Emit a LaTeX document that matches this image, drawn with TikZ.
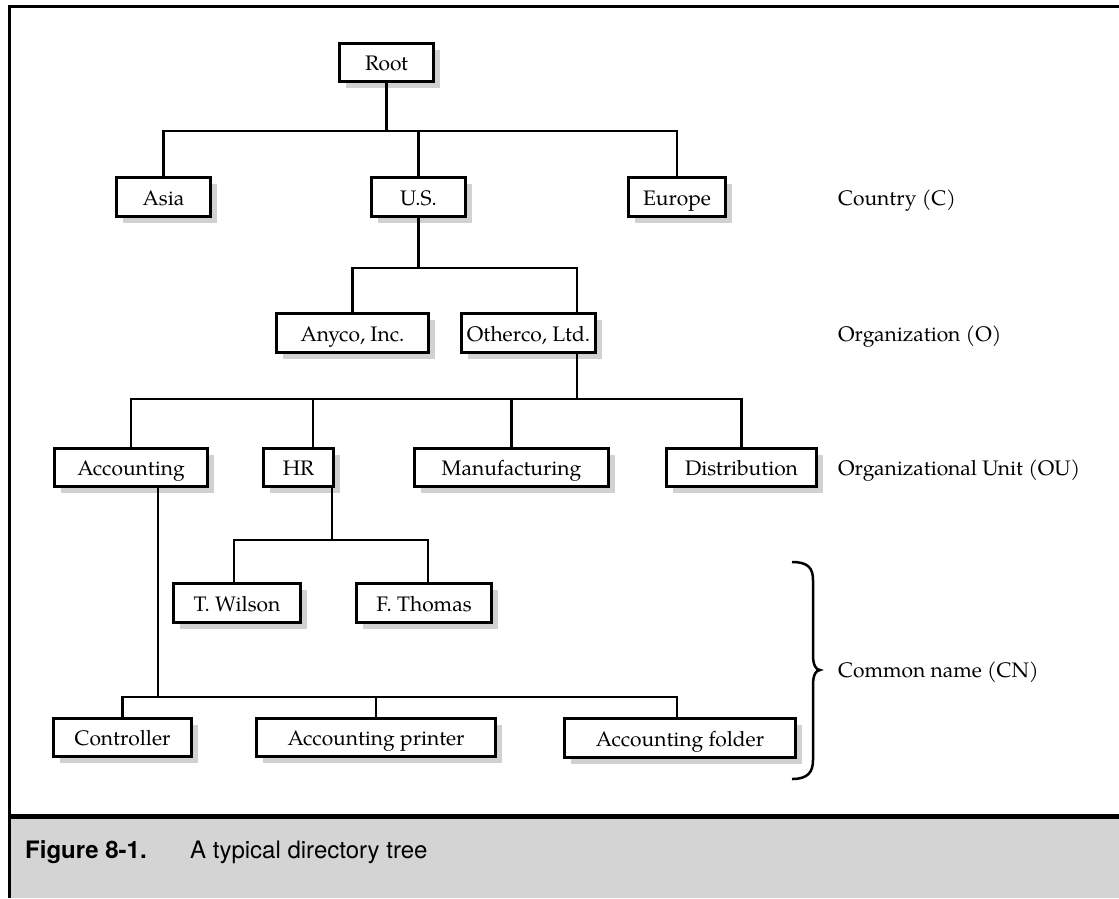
\documentclass[tikz,border=0pt]{standalone}
\usepackage{fontspec}
\setmainfont{TeX Gyre Pagella}
\setsansfont{TeX Gyre Heros}
\usetikzlibrary{shadows}
\definecolor{shade}{gray}{0.82}
\definecolor{capfill}{gray}{0.83}
\begin{document}
\begin{tikzpicture}[x=1pt,y=-1pt,
  box/.style={draw, line width=2.8pt, fill=white, inner sep=0pt,
    minimum height=38.3pt, text height=20pt, text depth=3.6pt,
    font=\fontsize{21}{24}\selectfont,
    drop shadow={shadow xshift=6.5pt, shadow yshift=-6.5pt, fill=shade, opacity=1}},
  link/.style={line width=2.7pt},
  lab/.style={anchor=base west, inner sep=0pt, font=\fontsize{21}{24}\selectfont}]
\useasboundingbox (0,0) rectangle (1119,898);

% caption band and frame
\fill[capfill] (9,817) rectangle (1119,898);
\draw[line width=3pt] (1119,6) -- (9,6) -- (9,898);
\draw[line width=5pt] (9,816.8) -- (1119,816.8);
\node[anchor=base west, inner sep=0pt, font=\sffamily\bfseries\fontsize{24}{28}\selectfont] (fig) at (25,858) {Figure 8-1.};
\node[anchor=base west, inner sep=0pt, font=\sffamily\fontsize{24}{28}\selectfont] (cap) at (190,858) {A typical directory tree};

% tree nodes
\node[box, minimum width=93.3pt]  (root)  at (386.5,62.5) {Root};
\node[box, minimum width=94.3pt]  (asia)  at (163.5,197) {Asia};
\node[box, minimum width=94.3pt]  (us)    at (418.5,197) {U.S.};
\node[box, minimum width=97.3pt]  (eur)   at (677,197)   {Europe};
\node[box, minimum width=152.3pt] (anyco) at (352.5,333) {Anyco, Inc.};
\node[box, minimum width=134.3pt] (oth)   at (528.5,333) {Otherco, Ltd.};
\node[box, minimum width=152.3pt] (acc)   at (131,467.5) {Accounting};
\node[box, minimum width=70.3pt]  (hr)    at (298.5,467.5) {HR};
\node[box, minimum width=194.3pt] (manu)  at (511.5,467.5) {Manufacturing};
\node[box, minimum width=150.3pt] (dist)  at (741.5,467.5) {Distribution};
\node[box, minimum width=127.3pt] (tw)    at (237,603) {T. Wilson};
\node[box, minimum width=135.3pt] (ft)    at (424,603) {F. Thomas};
\node[box, minimum width=138.3pt] (ctrl)  at (122.5,737.5) {Controller};
\node[box, minimum width=239.3pt] (prn)   at (376,737.5) {Accounting printer};
\node[box, minimum width=231.3pt] (fold)  at (680,738) {Accounting folder};

% level labels
\node[lab] (lc)  at (838,205.2) {Country (C)};
\node[lab] (lo)  at (838,341.2) {Organization (O)};
\node[lab] (lou) at (838,475.7) {Organizational Unit (OU)};
\node[lab] (lcn) at (838,677)   {Common name (CN)};

% junction points
\coordinate (jC)  at (386.5,131);
\coordinate (jO)  at (418.5,268);
\coordinate (oT)  at (oth.north -| 577,0);
\coordinate (oB)  at (oth.south -| 577,0);
\coordinate (jOU) at (577,399);
\coordinate (hrT) at (hr.north -| 313,0);
\coordinate (hrB) at (hr.south -| 332,0);
\coordinate (jHR) at (332,540);
\coordinate (twT) at (tw.north -| 234,0);
\coordinate (ftT) at (ft.north -| 428,0);
\coordinate (aB)  at (acc.south -| 158,0);
\coordinate (jCN) at (158,697);
\coordinate (fT)  at (fold.north -| 677,0);

% connectors
\draw[link] (root.south) -- (jC);
\draw[link] (asia.north) |- (jC) -| (eur.north);
\draw[link] (us.north) -- (us.north |- jC);
\draw[link] (us.south) -- (jO);
\draw[link] (anyco.north) |- (jO) -| (oT);
\draw[link] (oB) -- (jOU);
\draw[link] (acc.north) |- (jOU) -| (dist.north);
\draw[link] (hrT) -- (hrT |- jOU);
\draw[link] (manu.north) -- (manu.north |- jOU);
\draw[link] (hrB) -- (jHR);
\draw[link] (twT) |- (jHR) -| (ftT);
\draw[link] (aB) -- (jCN);
\draw[link] (ctrl.north) |- (jCN) -| (fT);
\draw[link] (prn.north) -- (prn.north |- jCN);

% brace for the common-name level
\draw[line width=2.5pt] (792,562) .. controls (808,562) and (813,568) .. (813,580)
  -- (813,655) .. controls (813,665) and (816,670) .. (820,670)
  .. controls (816,670) and (813,675) .. (813,685)
  -- (813,760) .. controls (813,772) and (808,779) .. (792,779);
\end{tikzpicture}
\end{document}
